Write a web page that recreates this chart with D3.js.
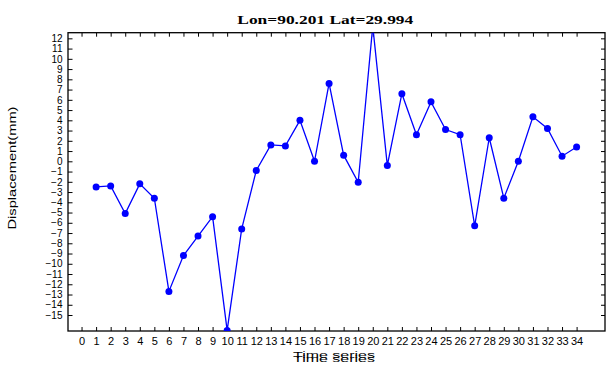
<!DOCTYPE html>
<html>
<head>
<meta charset="utf-8">
<script src="https://cdn.jsdelivr.net/npm/d3@7"></script>
<style>
    body { margin: 0; background: #fff; }
    text { font-family: "Liberation Sans", Arial, sans-serif; }
</style>
</head>
<body>
<div id="chart"></div>
<script>
var titleText = "Lon=90.201 Lat=29.994";
var xLabel = "Time series";
var yLabel = "Displacement(mm)";

var timeIndex = [1, 2, 3, 4, 5, 6, 7, 8, 9, 10, 11, 12, 13, 14, 15, 16, 17,
    18, 19, 20, 21, 22, 23, 24, 25, 26, 27, 28, 29, 30, 31, 32, 33, 34];
var displacement = [-2.5, -2.4, -5.1, -2.2, -3.6, -12.7, -9.2, -7.3, -5.4, -16.5, -6.6, -0.9, 1.6, 1.5, 4.0, 0.0, 7.6,
    0.6, -2.05, 13.2, -0.4, 6.6, 2.6, 5.8, 3.1, 2.6, -6.3, 2.3, -3.6, 0.0, 4.35, 3.2, 0.5, 1.4];
var xTicks = d3.range(0, 35);          // 0 .. 34
var yTicks = d3.range(-15, 13);        // -15 .. 12

var margin = { top: 32.7, right: 11, bottom: 37, left: 68 },
    width = 616 - margin.left - margin.right,
    height = 368 - margin.top - margin.bottom;

var x = d3.scaleLinear()
    .domain([-0.93, 35.95])
    .range([0, width]);
var y = d3.scaleLinear()
    .domain([-16.56, 12.55])
    .range([height, 0]);

var svg = d3.select("#chart").append("svg")
    .attr("width", 616)
    .attr("height", 368);

svg.append("text")                      // title, bold serif, stretched wide
    .attr("x", 237.3)
    .attr("y", 24)
    .attr("textLength", 176)
    .attr("lengthAdjust", "spacingAndGlyphs")
    .style("font-family", "'Liberation Serif', 'Times New Roman', serif")
    .style("font-weight", "bold")
    .style("font-size", "11.5px")
    .text(titleText);

var g = svg.append("g")
    .attr("transform", "translate(" + margin.left + "," + margin.top + ")");

g.append("defs").append("clipPath")
    .attr("id", "plotClip")
    .append("rect")
    .attr("width", width)
    .attr("height", height);

// axes: ticks point inward on all four sides, labels only bottom and left
var axisStyle = function (sel, fs) {
    sel.select(".domain").remove();
    sel.selectAll("line").attr("stroke", "#000").attr("stroke-width", 1);
    sel.selectAll("text").attr("fill", "#000").style("font-size", fs);
};

g.append("g")
    .attr("transform", "translate(0," + height + ")")
    .call(d3.axisBottom(x).tickValues(xTicks).tickSizeInner(-4).tickSizeOuter(0).tickPadding(6).tickFormat(d3.format("d")))
    .call(axisStyle, "11px");

g.append("g")
    .call(d3.axisTop(x).tickValues(xTicks).tickSizeInner(-4).tickSizeOuter(0).tickFormat(""))
    .call(axisStyle, "11px");

g.append("g")
    .call(d3.axisLeft(y).tickValues(yTicks).tickSizeInner(-4.5).tickSizeOuter(0).tickPadding(5.5).tickFormat(d3.format("d")))
    .call(axisStyle, "10px");

g.append("g")
    .attr("transform", "translate(" + width + ",0)")
    .call(d3.axisRight(y).tickValues(yTicks).tickSizeInner(-4).tickSizeOuter(0).tickFormat(""))
    .call(axisStyle, "11px");

g.append("rect")                         // frame
    .attr("width", width)
    .attr("height", height)
    .attr("fill", "none")
    .attr("stroke", "#000")
    .attr("stroke-width", 1.3);

var pts = timeIndex.map(function (t, i) { return [t, displacement[i]]; });

var plot = g.append("g").attr("clip-path", "url(#plotClip)");

plot.append("path")
    .datum(pts)
    .attr("fill", "none")
    .attr("stroke", "#0000ff")
    .attr("stroke-width", 1.3)
    .attr("d", d3.line().x(function (d) { return x(d[0]); }).y(function (d) { return y(d[1]); }));

plot.selectAll("circle")
    .data(pts)
    .enter().append("circle")
    .attr("cx", function (d) { return x(d[0]); })
    .attr("cy", function (d) { return y(d[1]); })
    .attr("r", 3.5)
    .attr("fill", "#0000ff");

// y axis label, rotated
svg.append("text")
    .attr("transform", "translate(15.5,168) rotate(-90)")
    .attr("text-anchor", "middle")
    .attr("textLength", 123)
    .attr("lengthAdjust", "spacingAndGlyphs")
    .style("font-size", "11px")
    .text(yLabel);

// x axis label is printed twice, slightly offset (as in the original)
[358.3, 361.5].forEach(function (by) {
    svg.append("text")
        .attr("x", 334)
        .attr("y", by)
        .attr("text-anchor", "middle")
        .attr("textLength", 82)
        .attr("lengthAdjust", "spacingAndGlyphs")
        .style("font-size", "8.5px")
        .text(xLabel);
});
</script>
</body>
</html>
